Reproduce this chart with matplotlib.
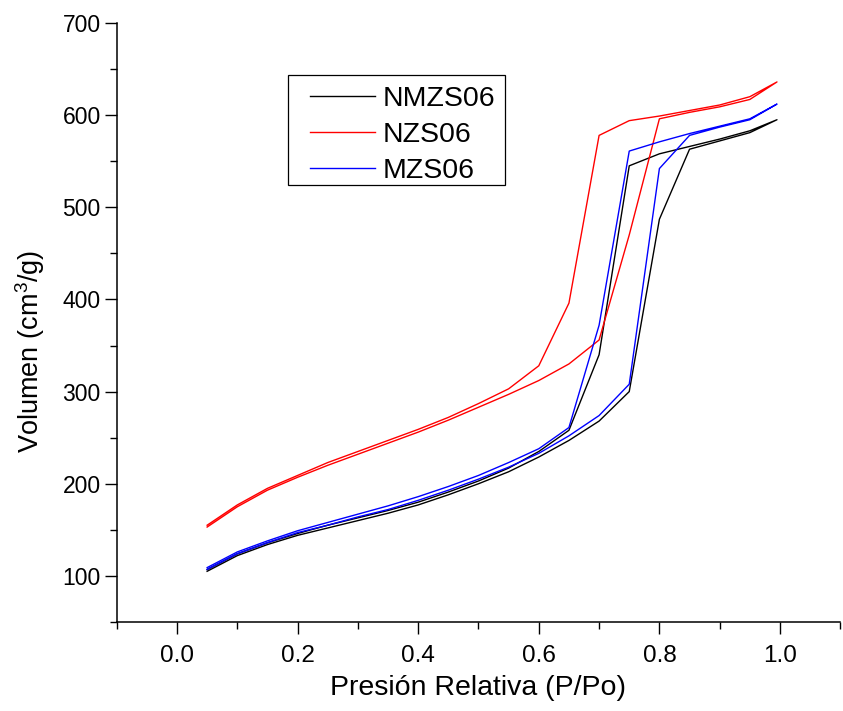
import matplotlib
matplotlib.use("Agg")
import matplotlib.pyplot as plt
from matplotlib.ticker import MultipleLocator
from matplotlib.patches import Rectangle

# ---- data ----
p_ads = [0.05, 0.10, 0.15, 0.20, 0.25, 0.30, 0.35, 0.40, 0.45, 0.50,
         0.55, 0.60, 0.65, 0.70, 0.75, 0.80, 0.85, 0.90, 0.95, 0.995]
p_des = [0.995, 0.95, 0.90, 0.85, 0.80, 0.75, 0.70, 0.65, 0.60, 0.55,
         0.50, 0.45, 0.40, 0.35, 0.30, 0.25, 0.20, 0.15, 0.10, 0.05]

nmzs06_ads = [105, 122, 134, 144, 152, 160, 168, 177, 188, 200,
              213, 229, 247, 268, 300, 487, 563, 572, 581, 595]
nmzs06_des = [595, 583, 574, 566, 558, 545, 340, 258, 235, 217,
              203, 191, 180, 171, 163, 155, 146, 136, 124, 107]

nzs06_ads = [153, 175, 193, 207, 220, 232, 244, 256, 269, 283,
             297, 312, 330, 356, 470, 596, 603, 609, 617, 636]
nzs06_des = [636, 620, 611, 605, 599, 594, 578, 396, 328, 303,
             287, 272, 259, 247, 235, 223, 209, 195, 177, 155]

mzs06_ads = [107, 124, 136, 147, 155, 164, 172, 182, 193, 205,
             218, 233, 252, 274, 308, 542, 578, 587, 595, 612]
mzs06_des = [612, 596, 588, 580, 571, 561, 372, 261, 238, 223,
             209, 197, 186, 176, 167, 158, 149, 138, 126, 109]

labels = ["NMZS06", "NZS06", "MZS06"]
colors = ["black", "red", "blue"]
x_ticks = [0.0, 0.2, 0.4, 0.6, 0.8, 1.0]
x_ticklabels = ["0.0", "0.2", "0.4", "0.6", "0.8", "1.0"]
y_ticks = [100, 200, 300, 400, 500, 600, 700]

# ---- style ----
plt.rcParams['font.family'] = ['Liberation Sans', 'DejaVu Sans']
plt.rcParams['mathtext.fontset'] = 'custom'
plt.rcParams['mathtext.rm'] = 'Liberation Sans'
plt.rcParams['mathtext.default'] = 'rm'

fig = plt.figure(figsize=(8.43, 7.11), dpi=100)
ax = fig.add_axes([0.1384, 0.1252, 0.8584, 0.8425])

series = [(nmzs06_ads, nmzs06_des), (nzs06_ads, nzs06_des), (mzs06_ads, mzs06_des)]
for (ads, des), lab, col in zip(series, labels, colors):
    ax.plot(p_ads + p_des, ads + des, color=col, lw=1.0, label=lab)

ax.set_xlim(-0.1, 1.1)
ax.set_ylim(50, 700)

for s in ['top', 'right']:
    ax.spines[s].set_visible(False)
for s in ['left', 'bottom']:
    ax.spines[s].set_linewidth(1.1)

ax.set_xticks(x_ticks)
ax.set_xticklabels(x_ticklabels, fontsize=17.5)
ax.set_yticks(y_ticks)
ax.xaxis.set_minor_locator(MultipleLocator(0.1))
ax.yaxis.set_minor_locator(MultipleLocator(50))
ax.tick_params(axis='both', which='major', direction='out', length=8.5, width=1.0)
ax.tick_params(axis='both', which='minor', direction='out', length=5, width=1.0)
ax.tick_params(axis='y', which='major', labelsize=16.5, pad=3)
ax.tick_params(axis='x', which='major', pad=8)

ax.set_xlabel("Presión Relativa (P/Po)", fontsize=20.5, labelpad=6)
ax.set_ylabel("Volumen (cm$^{3}$/g)", fontsize=19.5)
ax.yaxis.set_label_coords(-0.096, 0.452)

# legend: frame drawn separately to match the reference box
leg = ax.legend(loc='upper left', bbox_to_anchor=(304 / 843, 1 - 80 / 711),
                bbox_transform=fig.transFigure, fontsize=20.5, frameon=False,
                handlelength=2.3, handletextpad=0.25, borderpad=0.2,
                labelspacing=0.36, borderaxespad=0)
box = Rectangle((288 / 843, 1 - 185 / 711), (505 - 288) / 843, (185 - 75) / 711,
                transform=fig.transFigure, fill=False, edgecolor='black',
                linewidth=0.9, zorder=5)
fig.add_artist(box)

fig.savefig("out.png", dpi=100)
